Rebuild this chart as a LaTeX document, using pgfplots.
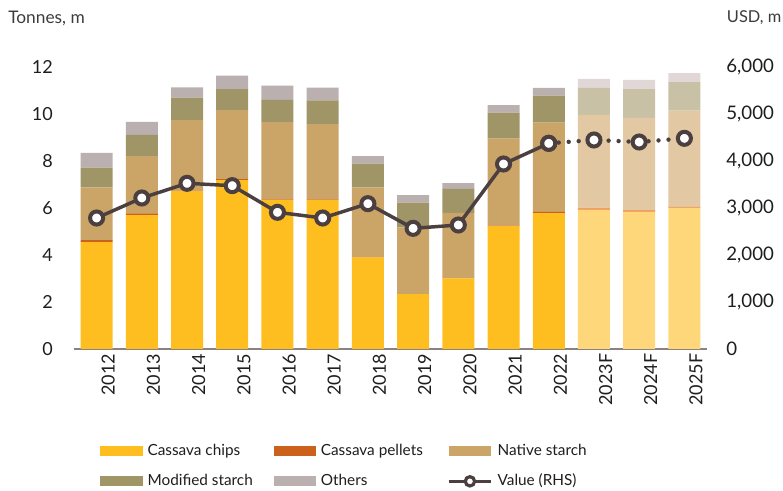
\documentclass[border=0pt]{standalone}
\usepackage{pgfplots}
\pgfplotsset{compat=1.18}
\usepackage{pgfplotstable}
\usepackage{fontspec}
\setmainfont{Lato}

\definecolor{chips}{HTML}{FEBE20}
\definecolor{pellets}{HTML}{CC611B}
\definecolor{native}{HTML}{CBA467}
\definecolor{modified}{HTML}{A09567}
\definecolor{others}{HTML}{BAB0AF}
\definecolor{fchips}{HTML}{FDD77A}
\definecolor{fpellets}{HTML}{EFA062}
\definecolor{fnative}{HTML}{E2C9A4}
\definecolor{fmodified}{HTML}{C9C1A5}
\definecolor{fothers}{HTML}{E1D7D7}
\definecolor{linecol}{HTML}{4B3F3F}
\definecolor{axisgray}{HTML}{8C8080}
\definecolor{txt}{HTML}{1E1E1E}
\definecolor{titletxt}{HTML}{3C3C3C}

\pgfplotstableread{
x chips pellets native modified others fchips fpellets fnative fmodified fothers value
0  4.55 0.08 2.25 0.84 0.63 0 0 0 0 0 2787
1  5.70 0.07 2.44 0.90 0.55 0 0 0 0 0 3213
2  6.72 0.02 3.00 0.96 0.43 0 0 0 0 0 3525
3  7.19 0.04 2.93 0.90 0.57 0 0 0 0 0 3475
4  6.35 0.02 3.28 0.95 0.61 0 0 0 0 0 2908
5  6.35 0.02 3.20 1.01 0.54 0 0 0 0 0 2787
6  3.90 0.01 2.97 1.01 0.32 0 0 0 0 0 3092
7  2.33 0.01 2.84 1.05 0.32 0 0 0 0 0 2567
8  3.00 0.01 2.78 1.02 0.25 0 0 0 0 0 2638
9  5.23 0.02 3.70 1.11 0.32 0 0 0 0 0 3936
10 5.78 0.06 3.79 1.15 0.33 0 0 0 0 0 4376
11 0 0 0 0 0 5.92 0.10 3.94 1.15 0.38 4447
12 0 0 0 0 0 5.84 0.07 3.92 1.23 0.39 4404
13 0 0 0 0 0 6.01 0.04 4.09 1.22 0.38 4482
}\data

\pgfplotsset{
  barlegend/.style={legend image code/.code={\fill[##1] (0pt,-3.75pt) rectangle (32pt,3.75pt);}},
  linelegend/.style={legend image code/.code={\draw[##1] (0pt,0pt) -- (32pt,0pt); \draw[##1, sharp plot] plot coordinates {(16pt,0pt)};}},
}
\newcommand{\legbox}[1]{\makebox[91pt][l]{#1}}

\begin{document}
\begin{tikzpicture}
\path[use as bounding box] (0,0) rectangle (587.25pt,368.25pt);
\begin{axis}[
  at={(55.5pt,106.5pt)}, anchor=south west,
  scale only axis, width=474.75pt, height=211.5pt,
  xmin=-0.5, xmax=13.5, ymin=0, ymax=12,
  ybar stacked, bar width=24pt,
  axis x line*=bottom, axis y line*=left,
  x axis line style={draw=axisgray, line width=1.5pt},
  y axis line style={draw=none},
  major tick length=0pt,
  xtick={0,...,13},
  xticklabels={2012,2013,2014,2015,2016,2017,2018,2019,2020,2021,2022,2023F,2024F,2025F},
  ytick={0,2,...,12},
  tick label style={font=\fontsize{13.5}{16}\selectfont, text=txt},
  xticklabel style={rotate=90, anchor=east, yshift=-8.7pt},
  yticklabel style={anchor=east, xshift=-12.4pt},
  /pgf/number format/assume math mode=true,
  barlegend,
  legend style={at={(axis description cs:0.041,-0.317)}, anchor=north west,
    draw=none, fill=none, inner sep=0pt, legend columns=3,
    nodes={font=\fontsize{11.5}{14}\selectfont, text=txt, inner sep=3.5pt, text height=9pt, text depth=3pt},
    row sep=3.5pt},
  legend cell align=left,
  clip=false,
]
\addplot[fill=chips, draw=none] table[x=x, y=chips] {\data};
\addlegendentry{\legbox{Cassava chips}}
\addplot[fill=pellets, draw=none] table[x=x, y=pellets] {\data};
\addlegendentry{\legbox{Cassava pellets}}
\addplot[fill=native, draw=none] table[x=x, y=native] {\data};
\addlegendentry{\legbox{Native starch}}
\addplot[fill=modified, draw=none] table[x=x, y=modified] {\data};
\addlegendentry{\legbox{Modified starch}}
\addplot[fill=others, draw=none] table[x=x, y=others] {\data};
\addlegendentry{\legbox{Others}}
\addlegendimage{linelegend, draw=linecol, line width=2.6pt, mark=*, mark size=3.5pt, mark options={fill=white, draw=linecol, line width=2.4pt}}
\addlegendentry{\legbox{Value (RHS)}}
\addplot[fill=fchips, draw=none] table[x=x, y=fchips] {\data};
\addplot[fill=fpellets, draw=none] table[x=x, y=fpellets] {\data};
\addplot[fill=fnative, draw=none] table[x=x, y=fnative] {\data};
\addplot[fill=fmodified, draw=none] table[x=x, y=fmodified] {\data};
\addplot[fill=fothers, draw=none] table[x=x, y=fothers] {\data};
\end{axis}

\begin{axis}[
  at={(55.5pt,106.5pt)}, anchor=south west,
  scale only axis, width=474.75pt, height=211.5pt,
  xmin=-0.5, xmax=13.5, ymin=0, ymax=6000,
  axis x line=none, axis y line*=right,
  y axis line style={draw=none},
  major tick length=0pt,
  ytick={0,1000,...,6000},
  scaled y ticks=false,
  tick label style={font=\fontsize{14}{16}\selectfont, text=txt},
  yticklabel style={anchor=west, xshift=11pt},
  /pgf/number format/.cd, assume math mode=true, 1000 sep={,},
]
\addplot[draw=linecol, line width=2.6pt, mark=*, mark size=4.9pt,
  mark options={fill=white, draw=linecol, line width=3pt, solid},
  restrict x to domain=0:10] table[x=x, y=value] {\data};
\addplot[draw=linecol, line width=3.3pt, line cap=round, dash pattern=on 0pt off 7.5pt,
  mark=*, mark size=4.9pt,
  mark options={fill=white, draw=linecol, line width=3pt, solid},
  restrict x to domain=10:13] table[x=x, y=value] {\data};
\end{axis}

\node[anchor=west, inner sep=0pt, font=\fontsize{13}{15}\selectfont, text=titletxt] at (6pt,354.75pt) {Tonnes, m};
\node[anchor=west, inner sep=0pt, font=\fontsize{12.3}{15}\selectfont, text=titletxt] at (545pt,354.75pt) {USD, m};
\end{tikzpicture}
\end{document}
